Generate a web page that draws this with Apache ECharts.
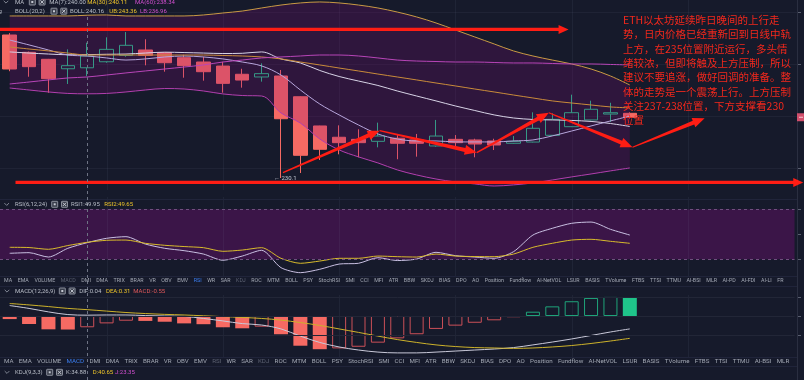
<!DOCTYPE html>
<html><head><meta charset="utf-8">
<script src="https://cdn.jsdelivr.net/npm/echarts@6/dist/echarts.min.js"></script>
<style>html,body{margin:0;padding:0;background:#161a2b;overflow:hidden}#c{width:804px;height:380px}</style>
</head><body><div id="c"></div>
<script>
// ---------------- data ----------------
const categories = ['20 03:00','20 04:00','20 05:00','20 06:00','20 07:00','20 08:00','20 09:00','20 10:00','20 11:00','20 12:00','20 13:00','20 14:00','20 15:00','20 16:00','20 17:00','20 18:00','20 19:00','20 20:00','20 21:00','20 22:00','20 23:00','21 00:00','21 01:00','21 02:00','21 03:00','21 04:00','21 05:00','21 06:00','21 07:00','21 08:00','21 09:00','21 10:00','21 11:00'];
// [open, close, low, high]
const kline = [
 [241.75,238.98,238.80,241.90],[240.34,239.17,238.35,240.40],[239.77,238.19,237.05,239.80],[239.00,239.25,237.76,240.58],
 [239.08,240.04,238.41,241.12],[239.57,240.58,239.49,241.56],[240.09,240.91,239.98,241.99],[240.53,240.09,239.28,241.40],
 [240.31,239.49,238.76,240.35],[239.90,239.25,238.27,240.14],[239.55,238.76,238.03,239.98],[239.22,237.81,237.05,239.57],
 [238.55,238.08,237.46,239.00],[238.33,238.60,237.95,239.44],[238.41,234.93,230.10,238.90],[236.72,231.95,230.51,236.75],
 [234.34,232.44,231.57,234.36],[233.42,232.98,232.03,234.39],[233.25,232.98,231.79,234.07],[233.09,233.52,232.60,234.61],
 [233.34,232.93,231.63,233.60],[233.20,232.93,231.84,233.69],[232.71,233.52,232.65,234.83],[233.25,232.98,232.60,233.60],
 [233.20,232.87,231.79,233.30],[233.12,232.79,232.38,233.30],[232.93,233.09,232.90,233.52],[233.03,234.15,233.00,235.45],
 [233.58,234.88,233.55,235.37],[234.28,235.42,234.25,236.89],[234.83,235.70,234.80,236.40],[235.31,235.42,234.66,236.23],
 [235.37,235.05,234.95,235.45]
];
const ma7 = [241.34,240.94,240.53,240.12,240.04,239.88,239.71,239.80,239.96,240.04,239.96,239.80,239.55,239.23,238.49,237.27,236.13,235.24,234.42,233.69,233.28,233.12,233.12,233.04,233.04,233.04,233.12,233.20,233.53,233.93,234.34,234.75,235.15];
const ma30 = [240.77,240.61,240.45,240.28,240.12,240.12,240.12,240.12,240.12,240.12,240.12,240.08,240.04,239.96,239.80,239.55,239.31,239.06,238.82,238.57,238.33,238.09,237.84,237.60,237.35,237.11,236.86,236.62,236.38,236.21,236.05,235.89,235.81];
const ma60 = [237.76,237.92,238.09,238.25,238.33,238.49,238.66,238.82,238.98,239.14,239.31,239.55,239.71,239.88,239.96,240.04,240.12,240.12,240.04,239.88,239.71,239.63,239.59,239.55,239.55,239.51,239.47,239.47,239.43,239.39,239.39,239.35,239.31];
const bollMid = [240.37,240.28,240.20,240.14,240.15,240.18,240.20,240.28,240.35,240.32,240.28,240.24,240.26,240.37,239.80,239.47,238.86,238.37,238.00,237.64,237.19,236.78,236.38,235.97,235.60,235.24,234.99,234.87,234.83,234.79,234.71,234.54,234.30];
const bollUp = [243.30,243.30,243.30,243.30,243.36,243.38,243.30,243.30,243.30,243.30,243.38,243.54,243.70,243.95,244.19,244.36,244.44,244.36,244.19,243.95,243.62,243.22,242.73,242.16,241.59,241.02,240.45,240.04,239.71,239.39,238.98,238.41,237.68];
const bollLow = [237.43,237.27,237.11,236.99,236.96,236.99,237.11,237.27,237.39,237.35,237.19,236.95,236.82,236.78,235.40,234.58,233.28,232.39,231.82,231.33,230.76,230.35,230.02,229.78,229.62,229.45,229.54,229.70,229.94,230.19,230.43,230.68,230.92];
const rsi1 = [34.8,35.3,31.8,38.8,43.3,46.8,48.1,42.2,38.8,36.9,34.2,29.2,32.6,37.2,23.3,19.3,22.0,26.2,26.8,31.3,29.0,30.2,35.6,32.9,31.8,30.8,36.1,49.4,54.8,58.8,59.8,54.0,49.4];
const rsi2 = [39.6,39.4,38.0,41.0,43.6,45.2,45.4,42.8,41.2,40.2,39.3,36.4,37.4,39.3,30.8,26.8,28.6,30.8,30.8,32.6,32.1,31.8,34.2,32.6,32.2,32.1,34.2,39.6,42.8,45.4,46.0,44.4,42.8];
const macdHist = [-0.15,-0.39,-0.65,-0.66,-0.55,-0.36,-0.23,-0.24,-0.28,-0.36,-0.40,-0.55,-0.60,-0.52,-0.89,-1.45,-1.62,-1.58,-1.50,-1.30,-1.09,-0.89,-0.63,-0.47,-0.33,-0.21,-0.06,0.21,0.47,0.72,0.88,0.93,0.90];
const dif = [0.51,0.37,0.20,0.07,0.04,0.05,0.05,0.02,0.00,-0.02,-0.12,-0.24,-0.37,-0.44,-0.63,-0.98,-1.29,-1.51,-1.66,-1.76,-1.80,-1.80,-1.76,-1.71,-1.66,-1.61,-1.54,-1.41,-1.27,-1.12,-0.95,-0.78,-0.63];
const dea = [0.61,0.54,0.46,0.37,0.31,0.24,0.17,0.12,0.08,0.05,0.01,-0.03,-0.07,-0.12,-0.20,-0.32,-0.46,-0.63,-0.80,-0.98,-1.15,-1.29,-1.41,-1.49,-1.54,-1.56,-1.58,-1.56,-1.51,-1.44,-1.34,-1.22,-1.09];
// annotation arrows in data coordinates: [fromIndex, fromPrice, toIndex, toPrice]
const trendArrows = [[14.10,230.54,19.09,233.96],[19.09,233.96,24.10,232.17],[24.10,232.17,27.82,235.42],[27.82,235.42,32.14,232.61],[32.14,232.61,35.86,234.97]];
const levelArrows = [[-0.8,242.20,28.84,242.20],[0.3,229.74,40.95,229.74]];
const lowLabel = '← 230.1';
const noteLines = ['ETH以太坊延续昨日晚间的上行走','势，日内价格已经重新回到日线中轨','上方，在235位置附近运行，多头情','绪较浓，但即将触及上方压制，所以','建议不要追涨，做好回调的准备。整','体的走势是一个震荡上行。上方压制','关注237-238位置，下方支撑看230','位置'];
const tabs1 = ['MA','EMA','VOLUME','MACD','DMI','DMA','TRIX','BRAR','VR','OBV','EMV','RSI','WR','SAR','KDJ','ROC','MTM','BOLL','PSY','StochRSI','SMI','CCI','MFI','ATR','BBW','SKDJ','BIAS','DPO','AO','Position','Fundflow','AI-NetVOL','LSUR','BASIS','TVolume','FTBS','TTSI','TTMU','AI-BSI','MLR','AI-PD','AI-FDI','AI-LI','FR'];
const tabs2 = tabs1.slice(0, 40);
const legendMA = ['MA','MA(7):240.00','MA(30):240.11','MA(60):238.34'];
const legendBOLL = ['BOLL(20,2)','BOLL:240.16','UB:243.36','LB:236.96'];
const legendRSI = ['RSI(6,12,24)','RSI1:49.95','RSI2:49.65'];
const legendMACD = ['MACD(12,26,9)','DIF:0.04','DEA:0.31','MACD:-0.55'];
const legendKDJ = ['KDJ(9,3,3)','K:34.88','D:40.65','J:23.35'];
const crossIndex = 4;

// ---------------- layout ----------------
const PAD = 8;
const xcats = categories.concat(Array.from({length: PAD}, (_, i) => '+' + (i + 1)));
const SLOT = 19.68, LEFT = -12.34, WIDTH = SLOT * xcats.length;
const RED = '#f66a63', GREEN = '#1fc48a';
const FONT = 'Roboto, "Noto Sans", sans-serif';

const chart = echarts.init(document.getElementById('c'), null, {renderer: 'canvas', width: 804, height: 380});

function arrowShape(api, w0, w1, hw, hl) {
  const p1 = api.coord([api.value(0), api.value(1)]);
  const p2 = api.coord([api.value(2), api.value(3)]);
  const dx = p2[0] - p1[0], dy = p2[1] - p1[1], len = Math.hypot(dx, dy);
  const ux = dx / len, uy = dy / len, nx = -uy, ny = ux;
  const bx = p2[0] - ux * hl, by = p2[1] - uy * hl;
  return {type: 'polygon', shape: {points: [
    [p1[0] + nx * w0 / 2, p1[1] + ny * w0 / 2], [bx + nx * w1 / 2, by + ny * w1 / 2], [bx + nx * hw / 2, by + ny * hw / 2],
    p2, [bx - nx * hw / 2, by - ny * hw / 2], [bx - nx * w1 / 2, by - ny * w1 / 2], [p1[0] - nx * w0 / 2, p1[1] - ny * w0 / 2]
  ]}, style: {fill: '#ff1d14'}};
}

const line = (data, color, extra) => Object.assign({
  type: 'line', xAxisIndex: 0, yAxisIndex: 0, data, symbol: 'none', smooth: 0.35, silent: true,
  lineStyle: {width: 1, color}, z: 4
}, extra || {});

const option = {
  backgroundColor: '#161a2b',
  animation: false,
  grid: [
    {left: LEFT, width: WIDTH, top: 0, height: 190.3},
    {left: LEFT, width: WIDTH, top: 196.8, height: 81.25},
    {left: LEFT, width: WIDTH, top: 295.5, height: 61.5}
  ],
  xAxis: [0, 1, 2].map(g => ({type: 'category', gridIndex: g, data: xcats, boundaryGap: true, show: false}))
    .concat([{type: 'value', gridIndex: 0, min: -0.5, max: xcats.length - 0.5, show: false}]),
  yAxis: [
    {type: 'value', gridIndex: 0, min: 229.1, max: 244.6, show: false},
    {type: 'value', gridIndex: 1, min: 15, max: 80, show: false},
    {type: 'value', gridIndex: 2, min: -2, max: 1, show: false}
  ],
  series: [
    {type: 'candlestick', xAxisIndex: 0, yAxisIndex: 0, data: kline, barWidth: 14, z: 2, silent: true,
     itemStyle: {color: 'rgba(0,0,0,0)', color0: RED, borderColor: GREEN, borderColor0: RED, borderWidth: 1},
     markPoint: {symbol: 'circle', symbolSize: 0, silent: true,
       label: {show: true, position: 'right', distance: 0, offset: [-7, 0], formatter: lowLabel, color: '#c3c7d2', fontSize: 6, fontFamily: FONT},
       data: [{coord: [14, 230.1]}]}},
    line(bollLow, '#b23fae', {stack: 'boll', z: 3}),
    line(bollUp.map((v, i) => +(v - bollLow[i]).toFixed(3)), '#c99a44', {stack: 'boll', z: 3, areaStyle: {color: 'rgba(134,10,122,0.33)'}}),
    line(bollMid, '#d7d3e6'),
    line(ma7, '#b7a6dc'),
    line(ma30, '#c98b3a'),
    line(ma60, '#b845b8'),
    {type: 'custom', xAxisIndex: 3, yAxisIndex: 0, data: trendArrows, clip: false, z: 10, silent: true,
     encode: {x: [0, 2], y: [1, 3]}, renderItem: (p, api) => arrowShape(api, 1.2, 4, 10, 12)},
    {type: 'custom', xAxisIndex: 3, yAxisIndex: 0, data: levelArrows, clip: false, z: 10, silent: true,
     encode: {x: [0, 2], y: [1, 3]}, renderItem: (p, api) => arrowShape(api, 3.2, 3.2, 9, 10)},
    // RSI
    {type: 'line', xAxisIndex: 1, yAxisIndex: 1, data: rsi1, symbol: 'none', smooth: 0.25, silent: true, z: 4,
     lineStyle: {width: 1, color: '#c9c0e2'},
     markArea: {silent: true, itemStyle: {color: '#3b1548'}, data: [[{yAxis: 30}, {yAxis: 70}]]},
     markLine: {silent: true, symbol: 'none', label: {show: false}, lineStyle: {color: '#70507f', type: [3, 3], width: 1}, data: [{yAxis: 70}, {yAxis: 30}]}},
    {type: 'line', xAxisIndex: 1, yAxisIndex: 1, data: rsi2, symbol: 'none', smooth: 0.25, silent: true, z: 4,
     lineStyle: {width: 1, color: '#d8bb2c'}},
    // MACD
    {type: 'bar', xAxisIndex: 2, yAxisIndex: 2, barWidth: 14, silent: true, z: 2,
     data: macdHist.map((v, i) => {
       const filled = i === 0 || v < macdHist[i - 1];
       const c = v < 0 ? RED : GREEN;
       const dim = v < 0 ? '#cc5058' : '#1fa47a';
       return {value: v, itemStyle: filled ? {color: c} : {color: 'rgba(0,0,0,0)', borderColor: dim, borderWidth: 1}};
     }),
     markLine: {silent: true, symbol: 'none', label: {show: false}, lineStyle: {color: '#222637', type: 'solid', width: 1}, data: [{yAxis: 0.93}, {yAxis: 0}, {yAxis: -0.93}]}},
    {type: 'line', xAxisIndex: 2, yAxisIndex: 2, data: dif, symbol: 'none', smooth: 0.35, silent: true, z: 4, lineStyle: {width: 1, color: '#c9c9d9'}},
    {type: 'line', xAxisIndex: 2, yAxisIndex: 2, data: dea, symbol: 'none', smooth: 0.35, silent: true, z: 4, lineStyle: {width: 1, color: '#cdb22a'}}
  ]
};
chart.setOption(option);

// ---------------- decorations (header texts, tabs, guides) ----------------
const ctx = document.createElement('canvas').getContext('2d');
const tw = (s, size) => { ctx.font = size + 'px ' + FONT; return ctx.measureText(s).width; };
const g = [];
const T = (x, y, s, color, size) => g.push({type: 'text', x, y, z: 100, silent: true,
  style: {text: s, fill: color, font: size + 'px ' + FONT, verticalAlign: 'middle', align: 'left'}});
const L = (x1, y1, x2, y2, color, dash, z) => g.push({type: 'line', z: z || 1, silent: true,
  shape: {x1, y1, x2, y2}, style: {stroke: color, lineWidth: 1, lineDash: dash || null}});
const chev = (x, y) => g.push({type: 'polyline', z: 100, silent: true,
  shape: {points: [[x - 2.3, y - 1.2], [x, y + 1.1], [x + 2.3, y - 1.2]]}, style: {stroke: '#9ba1ad', lineWidth: 0.8, fill: null}});
const icons = (x, y) => {
  [0, 9.8].forEach((o, k) => {
    g.push({type: 'rect', z: 100, silent: true, shape: {x: x + o, y: y - 3, width: 6, height: 6, r: 0.5},
      style: {fill: '#3a3e4c', stroke: '#a3a8b4', lineWidth: 0.8}});
    if (k === 0) g.push({type: 'rect', z: 101, silent: true, shape: {x: x + o + 2, y: y - 1, width: 2, height: 2}, style: {fill: '#c5c9d2'}});
    else { L(x + o + 1.3, y - 1.7, x + o + 4.7, y + 1.7, '#c5c9d2', null, 101); L(x + o + 4.7, y - 1.7, x + o + 1.3, y + 1.7, '#c5c9d2', null, 101); }
  });
};
const LIGHT = '#b9bec8', YEL = '#eec52a', MAG = '#d24fd0';
const px = v => chart.convertToPixel({xAxisIndex: 3}, v);
const py = v => chart.convertToPixel({yAxisIndex: 0}, v);

[5, 11, 17, 23, 29, 35].forEach(i => {
  const x = Math.round(px(i)) + 0.5;
  L(x, 0, x, 190, 'rgba(120,130,160,0.10)');
  L(x, 197, x, 276, 'rgba(120,130,160,0.10)');
  L(x, 295, x, 357, 'rgba(120,130,160,0.10)');
});
[243.62, 239.39, 235.15, 230.91].forEach(p => { const y = Math.round(py(p)) + 0.5; L(0, y, 797, y, 'rgba(120,130,160,0.09)'); });
[[199.5], [276.5], [286.5], [357.5], [366.5]].forEach(([y]) => L(0, y, 797, y, '#20243a'));
L(797.5, 0, 797.5, 380, '#2a2e40');
[12, 64, 116, 168, 209, 234, 259, 297, 316, 335].forEach(y => L(798, y + 0.5, 801, y + 0.5, '#5a5f70'));
const cx = Math.round(px(crossIndex)) + 0.5;
L(cx, 17, cx, 380, '#6e7384', [3, 3], 50);
const lastY = py(kline[kline.length - 1][1]);
g.push({type: 'rect', z: 60, silent: true, shape: {x: 797, y: lastY - 4, width: 8, height: 8}, style: {fill: '#d24f6c'}});
L(799, lastY, 803, lastY, '#f4c8d0', null, 61);

chev(6, 2); T(15, 2, legendMA[0], LIGHT, 6); icons(29.3, 2);
T(49.3, 2, legendMA[1], LIGHT, 6); T(87.3, 2, legendMA[2], YEL, 6); T(135, 2, legendMA[3], MAG, 6);
T(-1.5, 11.2, 'g', LIGHT, 6);
T(15, 11.2, legendBOLL[0], LIGHT, 6); icons(51, 11.2);
T(70, 11.2, legendBOLL[1], LIGHT, 6); T(109.3, 11.2, legendBOLL[2], YEL, 6); T(140, 11.2, legendBOLL[3], MAG, 6);
chev(6.7, 204.3); T(15, 204.3, legendRSI[0], LIGHT, 6); icons(51.7, 204.3);
T(71, 204.3, legendRSI[1], LIGHT, 6); T(104.3, 204.3, legendRSI[2], YEL, 6);
chev(7, 291); T(15, 291, legendMACD[0], LIGHT, 6); icons(59.3, 291);
T(79.3, 291, legendMACD[1], LIGHT, 6); T(106, 291, legendMACD[2], YEL, 6); T(133.3, 291, legendMACD[3], '#e0585a', 6);
chev(7, 372.3); T(15, 372.3, legendKDJ[0], LIGHT, 6); icons(46.7, 372.3);
T(66, 372.3, legendKDJ[1], LIGHT, 6); T(92.7, 372.3, legendKDJ[2], YEL, 6); T(115, 372.3, legendKDJ[3], MAG, 6);

function tabRow(list, y, size, x0, xLast, active, dimmed) {
  const widths = list.map(s => tw(s, size));
  const total = widths.slice(0, -1).reduce((a, b) => a + b, 0);
  const gap = (xLast - x0 - total) / (list.length - 1);
  let x = x0;
  list.forEach((s, i) => {
    const col = s === active ? '#3b7ef0' : (dimmed.includes(s) ? '#5d6272' : '#a3a8b4');
    T(x, y, s, col, size);
    x += widths[i] + gap;
  });
}
tabRow(tabs1, 280.7, 5.3, 4, 777.3, 'RSI', ['MACD', 'KDJ']);
tabRow(tabs2, 361.7, 6.2, 4, 776.7, 'MACD', ['RSI', 'KDJ']);

g.push({type: 'text', x: 623, y: 12.9, z: 120, silent: true,
  style: {text: noteLines.join('\n'), fill: '#f4281c', font: '10.5px "Noto Sans CJK SC", sans-serif', lineHeight: 14.3, verticalAlign: 'top', align: 'left'}});

chart.setOption({graphic: {elements: g}});
</script>
</body></html>
